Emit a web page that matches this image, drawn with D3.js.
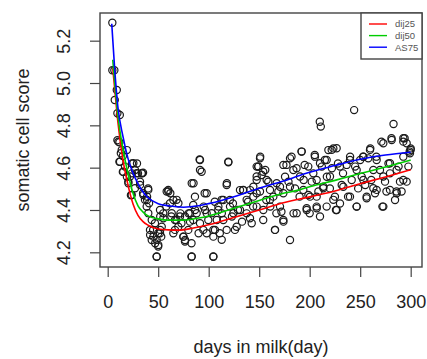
<!DOCTYPE html>
<html>
<head>
<meta charset="utf-8">
<script src="https://cdn.jsdelivr.net/npm/d3@7"></script>
<style>
  body { margin: 0; background: #fff; }
  svg { display: block; font-family: "Liberation Sans", Arial, sans-serif; }
</style>
</head>
<body>
<div id="chart"></div>
<script>
// tick labels
const xTicks = [0, 50, 100, 150, 200, 250, 300];
const yTicks = [4.2, 4.4, 4.6, 4.8, 5.0, 5.2];

// observed somatic cell score by days in milk: [day, score]
const scsPoints = [
  [4.6,5.285],[6.6,5.06],[4.6,5.06],[9,4.967],[7,4.92],[9.6,4.857],[12,4.849],[9.6,4.73],[11.6,4.72],
  [13,4.668],[15,4.655],[11.6,4.628],[15,4.58],[19,4.683],[19,4.557],[20.5,4.526],[23,4.47],[24,4.62],
  [27,4.589],[29,4.62],[24,4.573],[30,4.573],[34,4.573],[35,4.576],[32,4.534],[35,4.479],[39,4.463],
  [39,4.447],[40,4.502],[41,4.432],[42,4.282],[43.6,4.258],[45,4.306],[47,4.243],[48.5,4.179],[50,4.29],
  [50,4.227],[52,4.306],[53,4.274],[52,4.369],[55,4.384],[58,4.416],[60,4.487],[62,4.479],[65,4.447],
  [63,4.369],[65,4.29],[68,4.353],[70,4.432],[72,4.384],[73,4.337],[75,4.274],[76.6,4.258],[76.6,4.369],
  [80,4.384],[81.5,4.345],[83,4.243],[83,4.179],[85,4.526],[86.5,4.4],[90,4.29],[91,4.639],[93,4.581],
  [95,4.416],[96,4.479],[98,4.29],[98,4.384],[104.6,4.179],[104.6,4.306],[106,4.439],[108,4.353],
  [109.6,4.416],[111,4.29],[113,4.384],[114.5,4.447],[119.5,4.625],[118,4.526],[121,4.447],[123,4.369],
  [124,4.431],[126,4.306],[129,4.4],[131,4.494],[133,4.345],[134,4.494],[137.6,4.384],[139,4.439],
  [141,4.494],[142.6,4.337],[144,4.416],[147.5,4.479],[149,4.605],[151,4.652],[152.5,4.565],[154,4.353],
  [156,4.589],[157,4.447],[159,4.534],[161,4.416],[164,4.463],[165.7,4.306],[167,4.384],[169,4.487],
  [170.6,4.51],[172,4.392],[174,4.345],[175.6,4.557],[177,4.613],[179,4.534],[180.5,4.258],[182,4.652],
  [184,4.384],[185.5,4.502],[187,4.597],[190,4.463],[192,4.676],[194,4.542],[195,4.613],[197,4.408],
  [198.7,4.471],[200,4.384],[202,4.534],[203.6,4.573],[205,4.66],[207,4.408],[208.6,4.487],[210,4.817],
  [211,4.794],[212,4.605],[213.5,4.51],[215,4.636],[217,4.557],[218.5,4.683],[220,4.502],[222,4.597],
  [223.4,4.691],[225,4.463],[226,4.4],[228,4.62],[230,4.431],[231.7,4.518],[233,4.573],[236.6,4.613],
  [238,4.463],[240,4.652],[241.6,4.542],[244,4.872],[245,4.605],[246.5,4.416],[248,4.502],[250,4.636],
  [251.5,4.557],[253,4.652],[255,4.518],[256.4,4.455],[258,4.644],[260,4.691],[261,4.542],[263,4.589],
  [264.7,4.479],[266,4.652],[269.6,4.589],[271,4.723],[272,4.416],[274.6,4.534],[276,4.487],[278,4.62],
  [279.5,4.573],[281,4.739],[283,4.806],[284.5,4.447],[286,4.487],[288,4.605],[289.4,4.534],[291,4.487],
  [292.7,4.723],[294,4.739],[296,4.534],[297.7,4.605],[299,4.676],[300,4.691],
  [10.5,4.723],[13.9,4.684],[12.2,4.628],[17.1,4.605],[15.4,4.581],[22.1,4.558],[20.4,4.534],[25.4,4.621],
  [28.7,4.574],[33.7,4.574],[27,4.503],[23.8,4.471],[32,4.518],[35.3,4.471],[40.2,4.495],[36.9,4.448],
  [38.6,4.416],[40.2,4.385],[43.6,4.353],[41.9,4.306],[45.2,4.274],[48.5,4.259],[51.8,4.29],[53.5,4.321],
  [50.1,4.235],[48.5,4.18],[46.8,4.337],[51.8,4.4],[55.1,4.361],[58.4,4.487],[60,4.495],[61.7,4.432],
  [63.4,4.385],[66.6,4.353],[68.3,4.448],[66.6,4.306],[71.6,4.369],[69.9,4.321],[74.9,4.274],[76.5,4.251],
  [79.8,4.306],[81.5,4.385],[84.7,4.424],[86.4,4.463],[83.2,4.526],[91.4,4.589],[91.4,4.636],[84.7,4.353],
  [88.1,4.385],[91.4,4.337],[96.4,4.4],[98,4.479],[94.7,4.306],[99.6,4.353],[103,4.385],[106.2,4.306],
  [104.6,4.274],[83.2,4.18],[104.6,4.18],[109.5,4.4],[112.9,4.448],[117.8,4.518],[119.4,4.628],[114.5,4.353],
  [121.1,4.416],[124.4,4.385],[127.7,4.321],[131,4.4],[134.3,4.495],[137.6,4.448],[140.9,4.361],[144.2,4.463],
  [147.5,4.542],[149.1,4.605],[147.5,4.416],[112.9,4.259],[117.8,4.306],
  [150.8,4.644],[147.5,4.605],[154,4.581],[147.5,4.558],[157.4,4.542],[144.2,4.51],[150.8,4.487],[160.7,4.495],
  [167.3,4.526],[173.9,4.613],[180.5,4.644],[192,4.676],[183.8,4.589],[190.4,4.558],[173.9,4.479],[180.5,4.51],
  [198.6,4.605],[205.2,4.652],[210.2,4.621],[216.8,4.636],[221.8,4.684],[226.7,4.692],[206.9,4.542],[213.5,4.503],
  [220.1,4.558],[193.7,4.495],[200.3,4.463],[160.7,4.448],[170.6,4.416],[154.1,4.4],[165.6,4.306],[173.9,4.353],
  [187.1,4.385],[197,4.4],[206.9,4.416],[210.2,4.369],[223.4,4.448],[226.7,4.4],[239.9,4.463],[246.5,4.416],
  [233.3,4.51],[230,4.605],[239.9,4.636],[246.5,4.589],[253.1,4.652],[259.7,4.684],[266.3,4.636],[253.1,4.542],
  [263,4.503],[272.9,4.558],[279.5,4.621],[286.1,4.589],[292.7,4.652],[272.9,4.416],[286.1,4.479],[279.5,4.495],
  [292.7,4.542],[299.3,4.668],[300,4.684],[272.9,4.715],[281.2,4.731],[292.7,4.739],[296,4.715],[256.4,4.463],
  [266.3,4.495],[216.8,4.416],[206.9,4.463]
];

// fitted curves, sampled at knot days
const dij25Days = [5, 7, 10, 15, 20, 25, 30, 35, 40, 50, 60, 70, 85, 100, 125, 150, 175, 190, 200, 225, 250, 275, 300];
const dij25 = [5.07, 4.97, 4.82, 4.64, 4.52, 4.43, 4.375, 4.345, 4.328, 4.31, 4.306, 4.305, 4.315, 4.33, 4.365, 4.40, 4.435, 4.452, 4.462, 4.49, 4.524, 4.556, 4.59];
const dij50Days = [5, 7, 10, 15, 20, 25, 30, 35, 40, 50, 60, 75, 90, 100, 125, 150, 175, 190, 200, 225, 250, 275, 300];
const dij50 = [5.11, 5.0, 4.85, 4.69, 4.575, 4.48, 4.42, 4.39, 4.372, 4.358, 4.352, 4.352, 4.362, 4.372, 4.408, 4.445, 4.48, 4.495, 4.51, 4.54, 4.572, 4.603, 4.636];
const as75Days = [4, 7, 10, 15, 20, 25, 30, 35, 40, 50, 60, 75, 90, 100, 125, 150, 175, 190, 200, 225, 250, 275, 300];
const as75 = [5.28, 5.06, 4.89, 4.75, 4.645, 4.575, 4.525, 4.485, 4.458, 4.43, 4.42, 4.413, 4.42, 4.43, 4.463, 4.503, 4.538, 4.563, 4.578, 4.61, 4.64, 4.66, 4.673];

const seriesNames = ['dij25', 'dij50', 'AS75'];
const seriesColors = ['#ff0000', '#00cd00', '#0000ff'];

const W = 427, H = 359;
const box = { left: 100, right: 422, top: 13, bottom: 267 };

const svg = d3.select('#chart').append('svg')
  .attr('width', W)
  .attr('height', H);

const x = d3.scaleLinear().domain([-7.62, 311.2]).range([box.left, box.right]);
const y = d3.scaleLinear().domain([4.1306, 5.3308]).range([box.bottom, box.top]);

// axes (R style: ticks outside the box)
const xAxis = svg.append('g')
  .attr('transform', `translate(0,${box.bottom})`)
  .call(d3.axisBottom(x).tickValues(xTicks).tickSize(10).tickPadding(18).tickFormat(d3.format('d')));
xAxis.select('.domain').remove();
xAxis.selectAll('line').attr('stroke', '#444').attr('stroke-width', 1.2);
xAxis.selectAll('text').style('font-size', '18px').attr('fill', '#222');

const yAxis = svg.append('g')
  .attr('transform', `translate(${box.left},0)`)
  .call(d3.axisLeft(y).tickValues(yTicks).tickSize(10).tickFormat(d3.format('.1f')));
yAxis.select('.domain').remove();
yAxis.selectAll('line').attr('stroke', '#444').attr('stroke-width', 1.2);
yAxis.selectAll('text')
  .attr('x', null).attr('dy', null)
  .attr('transform', 'translate(-30,0) rotate(-90)')
  .attr('text-anchor', 'middle')
  .style('font-size', '18px')
  .attr('fill', '#222');

// points
svg.append('g')
  .selectAll('circle')
  .data(scsPoints)
  .enter().append('circle')
  .attr('cx', d => x(d[0]))
  .attr('cy', d => y(d[1]))
  .attr('r', 3.6)
  .attr('fill', 'none')
  .attr('stroke', '#1a1a1a')
  .attr('stroke-width', 1.2);

// fitted lines
const curves = [
  { days: dij25Days, vals: dij25 },
  { days: dij50Days, vals: dij50 },
  { days: as75Days, vals: as75 }
];
const line = d3.line()
  .x(d => x(d[0]))
  .y(d => y(d[1]))
  .curve(d3.curveMonotoneX);

curves.forEach((c, i) => {
  svg.append('path')
    .datum(c.days.map((d, j) => [d, c.vals[j]]))
    .attr('d', line)
    .attr('fill', 'none')
    .attr('stroke', seriesColors[i])
    .attr('stroke-width', 1.6);
});

// plot frame
svg.append('rect')
  .attr('x', box.left).attr('y', box.top)
  .attr('width', box.right - box.left).attr('height', box.bottom - box.top)
  .attr('fill', 'none')
  .attr('stroke', '#444')
  .attr('stroke-width', 1.4);

// legend, top right
const legend = svg.append('g');
legend.append('rect')
  .attr('x', 361).attr('y', box.top)
  .attr('width', box.right - 361).attr('height', 46)
  .attr('fill', '#fff')
  .attr('stroke', '#444')
  .attr('stroke-width', 1.4);
seriesNames.forEach((name, i) => {
  const ly = 24 + i * 11.6;
  legend.append('line')
    .attr('x1', 369).attr('x2', 387)
    .attr('y1', ly).attr('y2', ly)
    .attr('stroke', seriesColors[i])
    .attr('stroke-width', 1.4);
  legend.append('text')
    .attr('x', 395).attr('y', ly + 3.3)
    .style('font-size', '9.5px')
    .attr('fill', '#555')
    .text(name);
});

// axis titles
svg.append('text')
  .attr('x', (box.left + box.right) / 2)
  .attr('y', 353)
  .attr('text-anchor', 'middle')
  .style('font-size', '18px')
  .attr('fill', '#222')
  .text('days in milk(day)');

svg.append('text')
  .attr('transform', `translate(28.5,${(box.top + box.bottom) / 2}) rotate(-90)`)
  .attr('text-anchor', 'middle')
  .style('font-size', '18px')
  .attr('fill', '#222')
  .text('somatic cell score');
</script>
</body>
</html>
